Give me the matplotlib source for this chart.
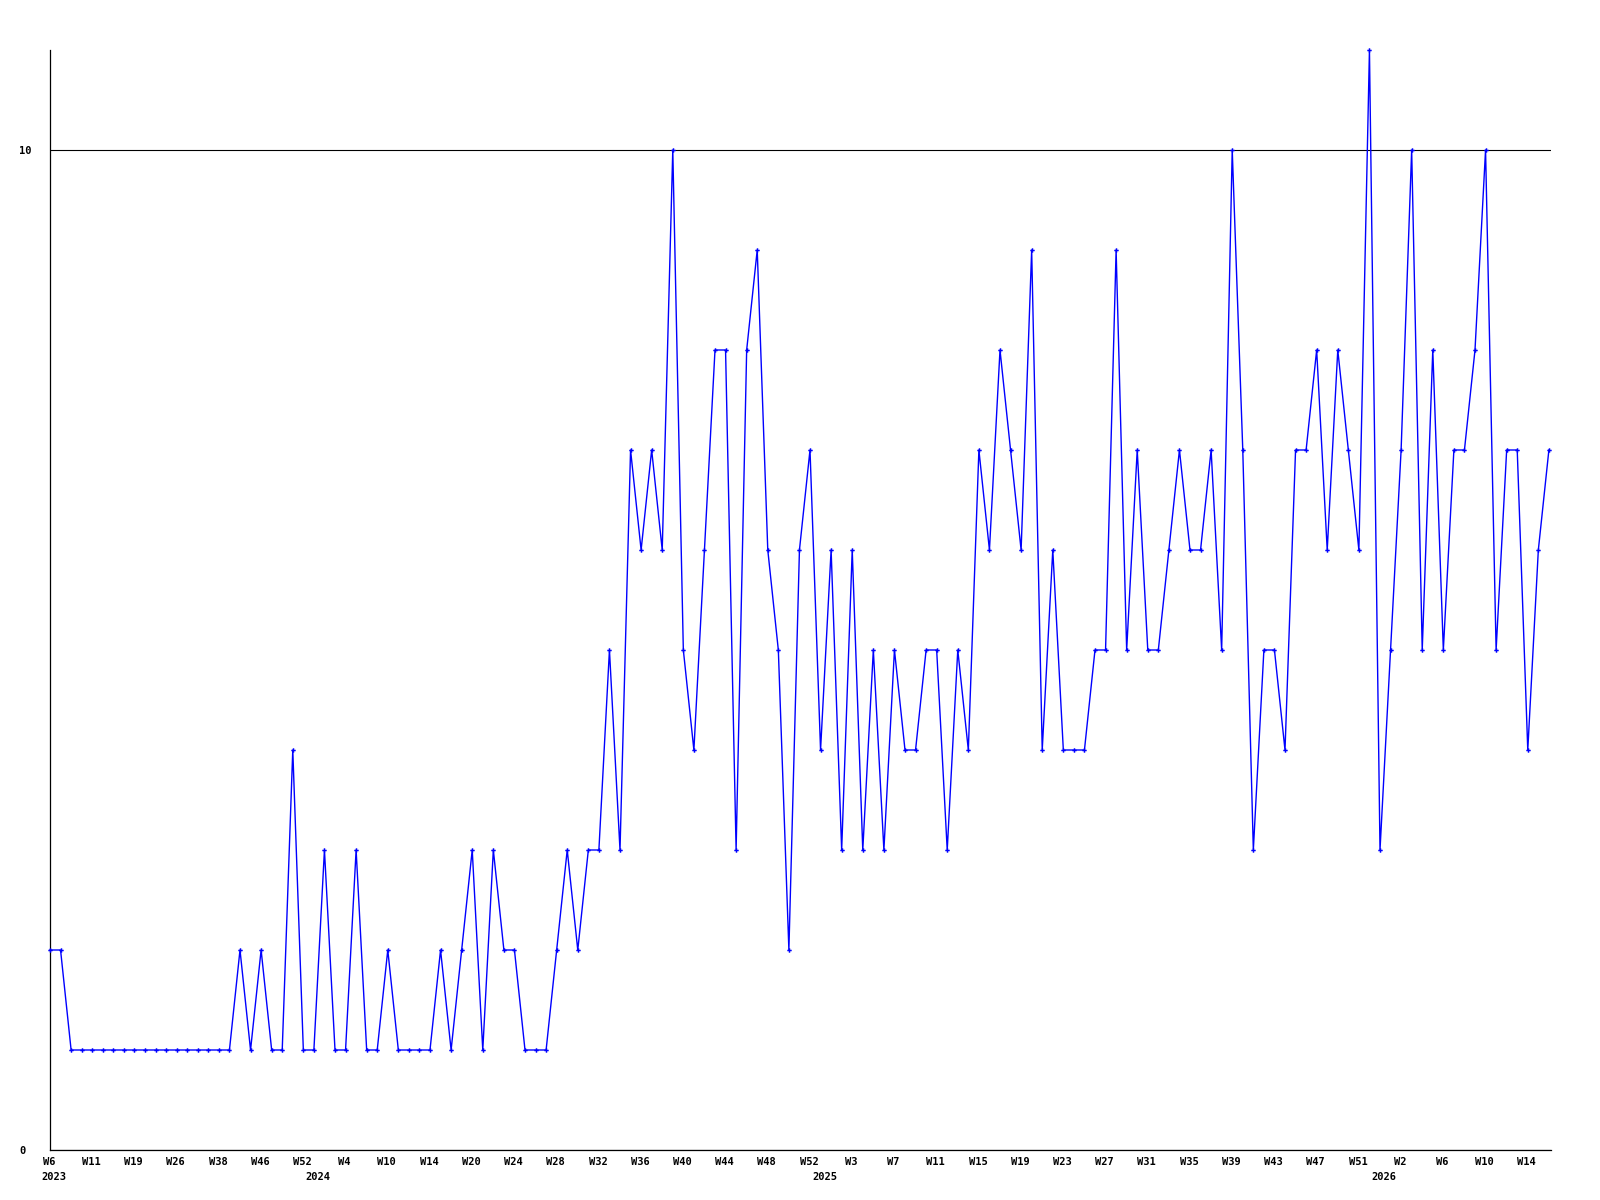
import matplotlib.pyplot as plt
from matplotlib.transforms import ScaledTranslation

# weekly counts, one value per plotted week (2023 W6 .. 2026 W16)
counts = [2, 2, 1, 1, 1, 1, 1, 1, 1, 1, 1, 1, 1, 1, 1, 1, 1, 1,
          2, 1, 2, 1, 1, 4, 1, 1, 3, 1, 1, 3, 1, 1, 2, 1, 1, 1,
          1, 2, 1, 2, 3, 1, 3, 2, 2, 1, 1, 1, 2, 3, 2, 3, 3, 5,
          3, 7, 6, 7, 6, 10, 5, 4, 6, 8, 8, 3, 8, 9, 6, 5, 2, 6,
          7, 4, 6, 3, 6, 3, 5, 3, 5, 4, 4, 5, 5, 3, 5, 4, 7, 6,
          8, 7, 6, 9, 4, 6, 4, 4, 4, 5, 5, 9, 5, 7, 5, 5, 6, 7,
          6, 6, 7, 5, 10, 7, 3, 5, 5, 4, 7, 7, 8, 6, 8, 7, 6, 11,
          3, 5, 7, 10, 5, 8, 5, 7, 7, 8, 10, 5, 7, 7, 4, 6, 7]

week_labels = ['W6', 'W11', 'W19', 'W26', 'W38', 'W46', 'W52', 'W4', 'W10',
               'W14', 'W20', 'W24', 'W28', 'W32', 'W36', 'W40', 'W44', 'W48',
               'W52', 'W3', 'W7', 'W11', 'W15', 'W19', 'W23', 'W27', 'W31',
               'W35', 'W39', 'W43', 'W47', 'W51', 'W2', 'W6', 'W10', 'W14']
week_step = 4

years = ['2023', '2024', '2025', '2026']
year_start = [0, 25, 73, 126]

font = dict(family='DejaVu Sans Mono', fontsize=7.5, fontweight='bold')

fig = plt.figure(figsize=(16, 12), dpi=100)
ax = fig.add_axes([50 / 1600, 50 / 1200, 1501 / 1600, 1100 / 1200])

x = list(range(len(counts)))
ax.plot(x, counts, color='#0000ff', lw=1.0, marker='P', markersize=3.2,
        markeredgewidth=0, clip_on=False, zorder=3)

ax.set_xlim(0, 142.2)
ax.set_ylim(0, 11)

for side in ['top', 'right']:
    ax.spines[side].set_visible(False)
for side in ['left', 'bottom']:
    ax.spines[side].set_color('black')
    ax.spines[side].set_linewidth(0.9)

ax.set_yticks([0, 10])
ax.set_yticklabels(['0', '10'], **font)
ax.tick_params(axis='y', length=0, pad=22)
for lab in ax.get_yticklabels():
    lab.set_horizontalalignment('left')
ax.grid(axis='y', color='black', lw=0.8)
ax.set_axisbelow(True)

ax.set_xticks([])
base = ax.get_xaxis_transform()
week_trans = base + ScaledTranslation(-1 / 100, -12 / 100, fig.dpi_scale_trans)
year_trans = base + ScaledTranslation(4 / 100, -27 / 100, fig.dpi_scale_trans)
for i, lab in enumerate(week_labels):
    ax.text(i * week_step, 0, lab, transform=week_trans,
            ha='center', va='center', **font)
for pos, lab in zip(year_start, years):
    ax.text(pos, 0, lab, transform=year_trans,
            ha='center', va='center', **font)

fig.savefig('out.png', dpi=100)
